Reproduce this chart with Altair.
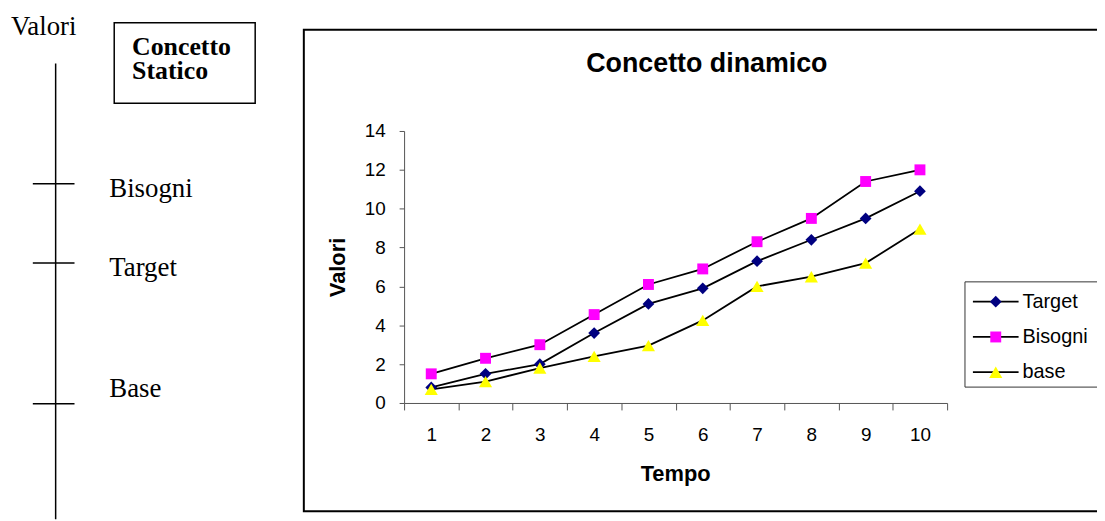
import altair as alt
import pandas as pd

# ---- data ----
tempo = [1, 2, 3, 4, 5, 6, 7, 8, 9, 10]
target = [0.8, 1.5, 2.0, 3.6, 5.1, 5.9, 7.3, 8.4, 9.5, 10.9]
bisogni = [1.5, 2.3, 3.0, 4.55, 6.1, 6.9, 8.3, 9.5, 11.4, 12.0]
base = [0.7, 1.1, 1.8, 2.4, 2.95, 4.25, 6.0, 6.5, 7.2, 8.95]
series_names = ["Target", "Bisogni", "base"]
series_colors = ["#000080", "#FF00FF", "#FFFF00"]
series_shapes = ["diamond", "square", "triangle-up"]
series_sizes = [140, 121, 175]
y_ticks = [0, 2, 4, 6, 8, 10, 12, 14]

static_names = ["Bisogni", "Target", "Base"]
static_levels = [73.6, 56.2, 25.3]

# ---- tables ----
rows = []
for name, vals in zip(series_names, [target, bisogni, base]):
    for t, v in zip(tempo, vals):
        rows.append({"Tempo": t, "Valore": v, "Series": name})
df = pd.DataFrame(rows)
leg_df = pd.DataFrame({"Series": series_names})
static_df = pd.DataFrame({"Name": static_names, "Level": static_levels})
vline_df = pd.DataFrame({"lo": [0], "hi": [100]})
one = pd.DataFrame({"a": [0]})

SANS = "Liberation Sans"
SERIF = "Liberation Serif"

x_scale = alt.Scale(type="band", domain=tempo, range=[399, 946], paddingInner=0, paddingOuter=0)
x_axis = alt.Axis(
    title="Tempo", orient="bottom", offset=-117, tickBand="extent", labelAngle=0,
    labelFont=SANS, labelFontSize=19, labelColor="black", labelPadding=16,
    tickSize=7, tickColor="#555", domainColor="#555", grid=False, zindex=1,
    titleFont=SANS, titleFontSize=22, titleFontWeight="bold", titleColor="black",
    titleX=672, titleY=78, titleAlign="center", titleBaseline="alphabetic",
)
X = alt.X("Tempo:O", scale=x_scale, bandPosition=0.5, axis=x_axis)

y_scale = alt.Scale(domain=[0, 14], range=[396, 122], nice=False, zero=False)
y_axis = alt.Axis(
    title="Valori", orient="left", offset=-399, values=y_ticks,
    labelFont=SANS, labelFontSize=19, labelColor="black", labelPadding=14,
    labelBaseline="middle", zindex=1,
    tickSize=5, tickColor="#555", domainColor="#555", grid=False,
    titleFont=SANS, titleFontSize=22, titleFontWeight="bold", titleColor="black",
    titleX=-67, titleY=259, titleAngle=270, titleAlign="center", titleBaseline="middle",
)

shape_enc = alt.Shape("Series:N", scale=alt.Scale(domain=series_names, range=series_shapes), legend=None)
color_enc = alt.Color("Series:N", scale=alt.Scale(domain=series_names, range=series_colors), legend=None)

# marker size per series (discrete mapping)
size_enc = alt.when(alt.datum.Series == series_names[0]).then(alt.value(series_sizes[0])) \
    .when(alt.datum.Series == series_names[1]).then(alt.value(series_sizes[1])) \
    .otherwise(alt.value(series_sizes[2]))

# ---- frame of the dynamic chart ----
frame = alt.Chart(one).mark_rect(fill="white", fillOpacity=0, stroke="black", strokeWidth=2).encode(
    x=alt.value(298), x2=alt.value(1112), y=alt.value(20), y2=alt.value(505)
)

title = alt.Chart(one).mark_text(
    text="Concetto dinamico", font=SANS, fontSize=27, fontWeight="bold",
    align="center", baseline="alphabetic", color="black"
).encode(x=alt.value(704), y=alt.value(63))

lines = alt.Chart(df).mark_line(color="black", strokeWidth=1.8).encode(
    x=X, y=alt.Y("Valore:Q", scale=y_scale, axis=y_axis), detail="Series:N"
)
points = alt.Chart(df).mark_point(filled=True, opacity=1, strokeWidth=0).encode(
    x=X, y=alt.Y("Valore:Q", scale=y_scale, axis=None),
    shape=shape_enc, color=color_enc, size=size_enc
)

# ---- legend ----
LY = alt.Y("Series:N", scale=alt.Scale(type="point", domain=series_names, range=[294, 365], padding=0), axis=None)
leg_box = alt.Chart(one).mark_rect(fill="white", stroke="#333", strokeWidth=1).encode(
    x=alt.value(964), x2=alt.value(1110), y=alt.value(274), y2=alt.value(380)
)
leg_rules = alt.Chart(leg_df).mark_rule(color="black", strokeWidth=1.8).encode(
    x=alt.value(972), x2=alt.value(1018), y=LY
)
leg_points = alt.Chart(leg_df).mark_point(filled=True, opacity=1, strokeWidth=0).encode(
    x=alt.value(995), y=LY, shape=shape_enc, color=color_enc, size=size_enc
)
leg_text = alt.Chart(leg_df).mark_text(
    font=SANS, fontSize=20, align="left", baseline="middle", color="black"
).encode(x=alt.value(1022), y=LY, text="Series:N")

# ---- static concept (left) ----
SY = alt.Scale(domain=[0, 100], range=[513, 54], nice=False, zero=False)
valori_txt = alt.Chart(one).mark_text(
    text="Valori", font=SERIF, fontSize=27, align="left", baseline="alphabetic", color="black"
).encode(x=alt.value(3), y=alt.value(25))
static_box = alt.Chart(one).mark_rect(fill="white", stroke="black", strokeWidth=1.5).encode(
    x=alt.value(107), x2=alt.value(249), y=alt.value(13), y2=alt.value(94)
)
static_box_txt1 = alt.Chart(one).mark_text(
    text="Concetto", font=SERIF, fontSize=26, fontWeight="bold",
    align="left", baseline="alphabetic", color="black"
).encode(x=alt.value(125), y=alt.value(45))
static_box_txt2 = alt.Chart(one).mark_text(
    text="Statico", font=SERIF, fontSize=26, fontWeight="bold",
    align="left", baseline="alphabetic", color="black"
).encode(x=alt.value(125), y=alt.value(70))
vline = alt.Chart(vline_df).mark_rule(color="black", strokeWidth=1.5).encode(
    x=alt.value(48), y=alt.Y("lo:Q", scale=SY, axis=None), y2="hi:Q"
)
sticks = alt.Chart(static_df).mark_rule(color="black", strokeWidth=1.5).encode(
    x=alt.value(25), x2=alt.value(67), y=alt.Y("Level:Q", scale=SY, axis=None)
)
slabels = alt.Chart(static_df).transform_filter(alt.datum.Name != "Base").mark_text(
    font=SERIF, fontSize=27, align="left", baseline="alphabetic", dy=13, color="black"
).encode(x=alt.value(102), y=alt.Y("Level:Q", scale=SY, axis=None), text="Name:N")
slabel_base = alt.Chart(static_df).transform_filter(alt.datum.Name == "Base").mark_text(
    font=SERIF, fontSize=27, align="left", baseline="alphabetic", dy=-7, color="black"
).encode(x=alt.value(102), y=alt.Y("Level:Q", scale=SY, axis=None), text="Name:N")

chart = alt.layer(
    frame, title, lines, points,
    leg_box, leg_rules, leg_points, leg_text,
    valori_txt, static_box, static_box_txt1, static_box_txt2, vline, sticks, slabels, slabel_base,
).resolve_scale(y="independent").properties(
    width=1097, height=513, autosize=alt.AutoSizeParams(type="none"), padding=0,
    background="white"
).configure_view(stroke=None)

chart.save("out.html", embed_options={"renderer": "svg", "actions": False})
